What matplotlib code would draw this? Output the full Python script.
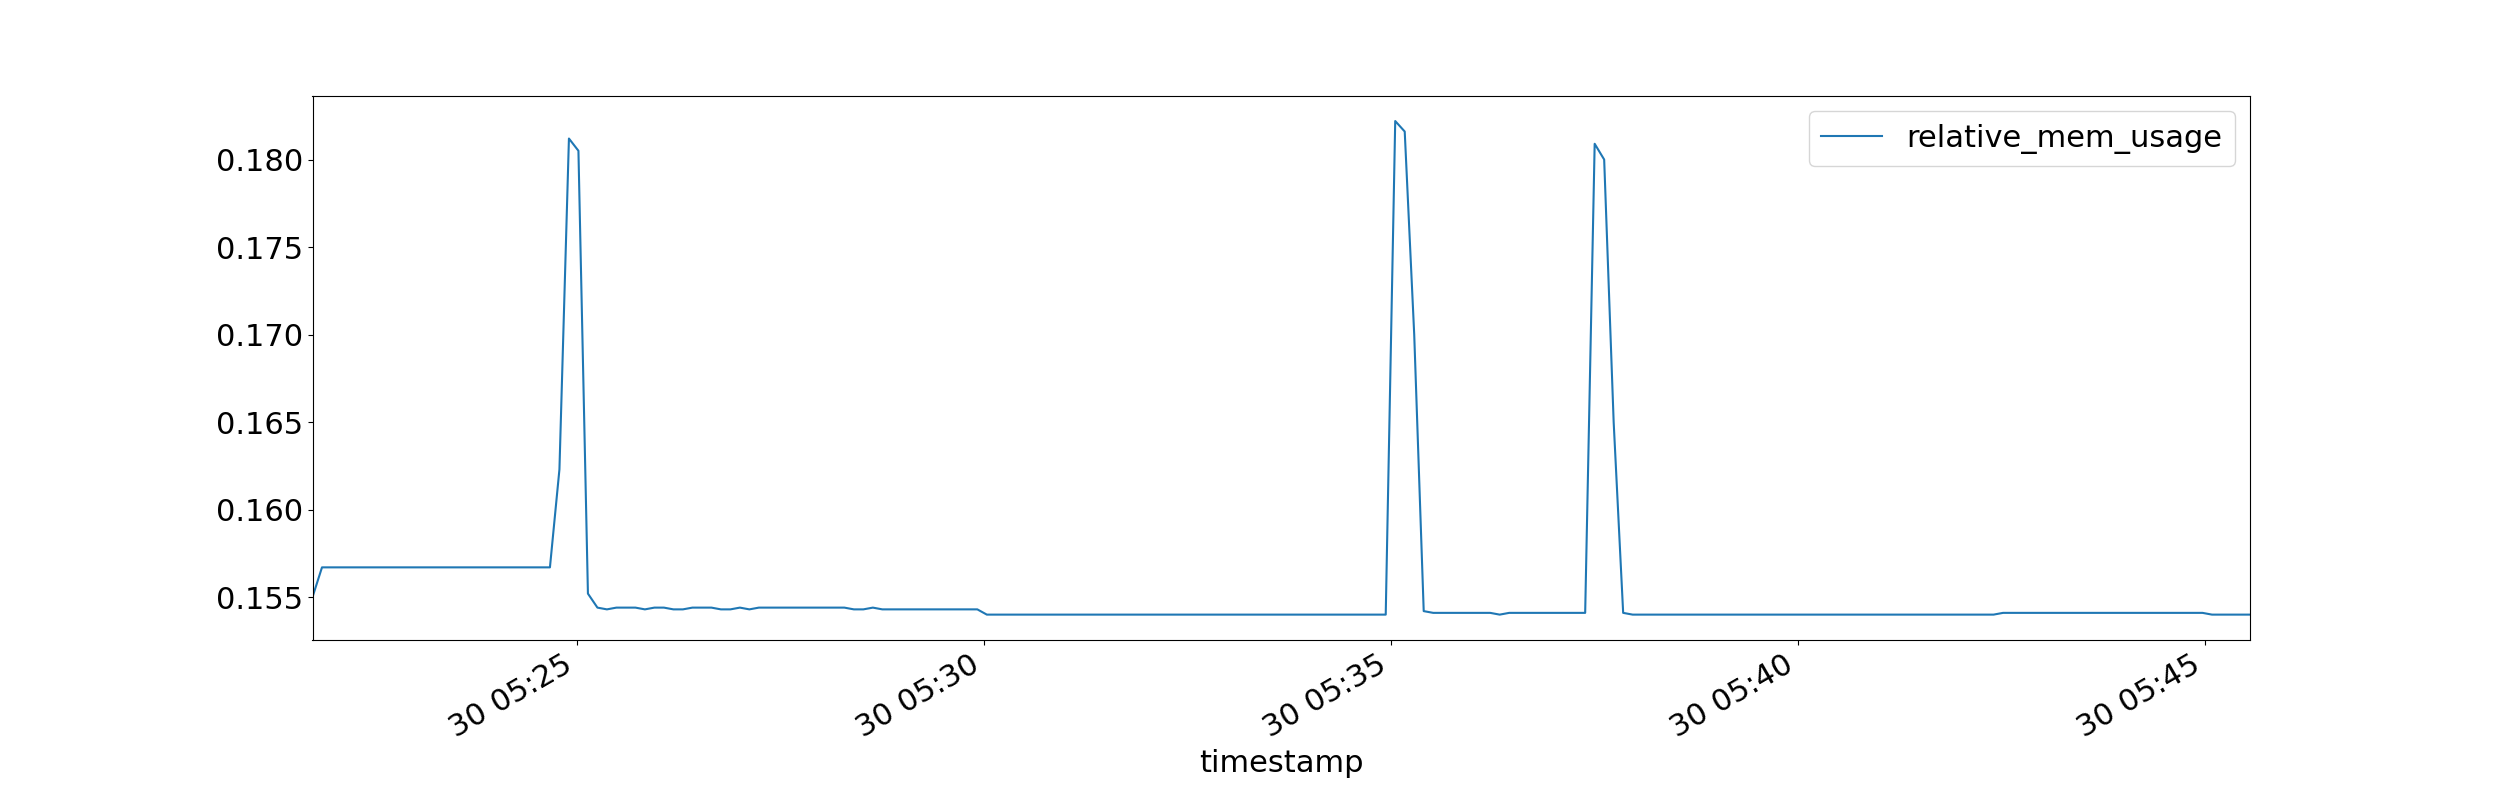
import pandas as pd
import matplotlib.pyplot as plt
import matplotlib.dates as mdates

# samples every 7 s starting 05:21:45
start = '2020-01-30 05:21:45'
n_points = 206

seg_start = [0.1550]
seg_plateau1 = [0.1567] * 25
seg_spike1 = [0.1623, 0.1812, 0.1805, 0.1552]
seg_low1 = [0.1544, 0.1543, 0.1544, 0.1544, 0.1544, 0.1543, 0.1544, 0.1544, 0.1543, 0.1543,
            0.1544, 0.1544, 0.1544, 0.1543, 0.1543, 0.1544, 0.1543, 0.1544, 0.1544, 0.1544,
            0.1544, 0.1544, 0.1544, 0.1544, 0.1544, 0.1544, 0.1544, 0.1543, 0.1543, 0.1544,
            0.1543, 0.1543, 0.1543, 0.1543, 0.1543, 0.1543, 0.1543, 0.1543, 0.1543, 0.1543, 0.1543]
seg_low2 = [0.1540] * 43
seg_spike2 = [0.1822, 0.1816, 0.1700]
seg_mid = [0.1542, 0.1541, 0.1541, 0.1541, 0.1541, 0.1541, 0.1541, 0.1541, 0.1540, 0.1541,
           0.1541, 0.1541, 0.1541, 0.1541, 0.1541, 0.1541, 0.1541, 0.1541]
seg_spike3 = [0.1809, 0.1800, 0.1650]
seg_low3 = [0.1541, 0.1540, 0.1540, 0.1540, 0.1540, 0.1540, 0.1540, 0.1540, 0.1540, 0.1540,
            0.1540, 0.1540, 0.1540, 0.1540, 0.1540, 0.1540, 0.1540, 0.1540, 0.1540, 0.1540,
            0.1540, 0.1540, 0.1540, 0.1540, 0.1540, 0.1540, 0.1540, 0.1540, 0.1540, 0.1540,
            0.1540, 0.1540, 0.1540, 0.1540, 0.1540, 0.1540, 0.1540, 0.1540, 0.1540, 0.1540,
            0.1541, 0.1541, 0.1541, 0.1541, 0.1541, 0.1541, 0.1541, 0.1541, 0.1541, 0.1541,
            0.1541, 0.1541, 0.1541, 0.1541, 0.1541, 0.1541, 0.1541, 0.1541, 0.1541, 0.1541,
            0.1541, 0.1541, 0.1540, 0.1540, 0.1540, 0.1540, 0.1540]

values = (seg_start + seg_plateau1 + seg_spike1 + seg_low1 + seg_low2 + seg_spike2
          + seg_mid + seg_spike3 + seg_low3)
timestamps = pd.date_range(start, periods=len(values), freq='7s')

plt.rcParams['font.size'] = 22
fig, ax = plt.subplots(figsize=(25, 8), dpi=100)
ax.plot(timestamps, values, color='#1f77b4', label='relative_mem_usage')
ax.set_xlim(timestamps[0], timestamps[-1])
ax.set_ylim(0.15255, 0.18363)
ax.xaxis.set_major_locator(mdates.MinuteLocator(byminute=range(0, 60, 5)))
ax.xaxis.set_major_formatter(mdates.DateFormatter('%d %H:%M'))
ax.set_xlabel('timestamp')
ax.legend(loc='upper right')
fig.autofmt_xdate()
plt.savefig('out.png')
